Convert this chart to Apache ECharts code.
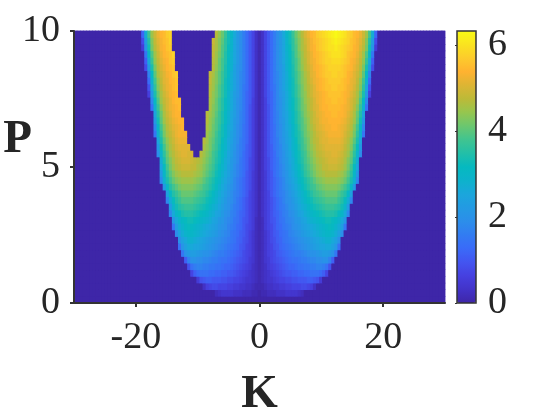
<!DOCTYPE html>
<html>
<head>
<meta charset="utf-8">
<style>html,body{margin:0;padding:0;background:#fff}</style>
<script src="https://cdn.jsdelivr.net/npm/echarts@6/dist/echarts.min.js"></script>
</head>
<body>
<div id="main" style="width:550px;height:420px"></div>
<script>
// tick labels
const kTicks = [-20, 0, 20];
const pTicks = [0, 5, 10];
const barTicks = [0, 2, 4, 6];

// axis ranges and grid steps
const kRange = [-30, 30];
const pRange = [0, 10];
const barMax = 6.33;
const kStep = 0.5;
const pStep = 0.25;

// colour bar, bottom to top
const barColors = ['#3e26a8','#4233c8','#4640e0','#4355f0','#3a6af8','#327cf2','#2c8eea','#239ae3','#1ba6dc','#0db2cc','#05b9c0',
  '#22bfa8','#40c490','#6ac770','#95c64f','#bcba38','#dcb534','#ffb230','#fccb2c','#fae320','#f9fb15'];

// values read off the right lobe, in tenths. one row per P (0 to 10, step 0.25),
// each row starts at K=0 with step 0.5, everything past the end of a row is 0
const lobeRows = [
  [0],
  [0,1,1,2,2,2,3,3,3,4,4,4,4,3,2],
  [1,1,2,3,3,4,4,5,5,6,6,7,7,7,8,8,7,6,3],
  [1,2,3,4,4,5,6,7,7,8,8,9,9,10,10,10,11,11,10,9,5],
  [1,2,3,4,5,6,7,8,9,10,10,11,11,12,12,13,13,14,14,14,13,11,7],
  [1,2,3,5,6,7,8,9,10,11,12,12,13,14,14,15,15,16,16,17,17,16,14,9],
  [1,2,4,5,7,8,9,10,11,12,13,14,14,15,16,16,17,18,18,19,19,20,20,17,11],
  [1,2,4,6,7,8,10,11,12,13,14,15,16,16,17,18,19,20,20,21,22,23,23,22,20,15],
  [1,2,4,6,7,9,10,12,13,14,15,16,17,18,19,20,21,22,23,24,25,25,26,26,24,21,14],
  [1,2,4,6,8,9,11,12,14,15,16,17,18,19,20,21,22,23,24,25,26,27,28,28,26,24,20],
  [1,2,4,6,8,10,11,13,14,15,17,18,19,20,22,23,24,25,26,27,28,29,30,30,29,27,24,19],
  [1,2,5,7,8,10,12,13,15,16,17,19,20,21,23,24,25,26,27,28,29,30,31,32,31,29,27,23,15],
  [1,2,5,7,9,10,12,14,15,17,18,19,21,22,24,25,27,28,29,30,31,32,33,33,32,31,29,26,21],
  [1,3,5,7,9,11,12,14,16,17,19,20,22,24,25,27,28,30,31,32,33,34,35,35,35,34,32,30,26,18],
  [1,3,5,7,9,11,13,15,16,18,20,21,23,25,27,28,30,32,33,34,35,36,37,37,37,36,35,33,29,23],
  [1,3,5,7,9,11,13,15,17,19,20,22,24,26,28,30,32,33,35,36,37,38,39,39,39,39,37,35,32,27,18],
  [1,3,5,7,10,12,14,16,17,19,21,23,25,27,29,31,33,35,37,38,39,40,41,41,41,41,39,37,35,31,24],
  [1,3,5,8,10,12,14,16,18,20,22,24,26,28,31,33,35,37,38,40,41,42,43,43,43,43,42,40,38,35,30,22],
  [1,3,5,8,10,12,14,16,18,21,23,25,27,30,32,34,36,38,40,42,43,44,45,45,45,45,44,43,41,38,34,28,18],
  [1,3,5,8,10,13,15,17,19,21,24,26,28,31,33,36,38,40,42,44,45,46,47,47,47,47,46,45,43,40,36,30,22],
  [1,3,6,8,11,13,15,17,19,22,24,27,29,32,34,37,39,41,43,45,46,48,48,49,49,49,48,47,45,42,38,32,25],
  [1,3,6,8,11,13,15,18,20,22,25,27,30,33,35,38,40,42,44,46,47,48,49,50,50,50,49,48,46,43,40,34,27],
  [1,3,6,9,11,13,16,18,20,23,25,28,31,33,36,38,41,43,45,47,48,49,50,50,51,51,50,49,47,45,41,36,29,19],
  [1,3,6,9,11,14,16,18,21,23,26,29,31,34,37,39,42,44,46,48,49,50,51,51,51,51,51,50,48,46,43,38,32,22],
  [1,3,6,9,12,14,16,19,21,24,26,29,32,35,37,40,42,45,47,48,50,51,51,52,52,52,52,51,49,47,44,40,34,25],
  [1,3,6,9,12,14,17,19,22,24,27,30,33,35,38,41,43,45,47,49,50,51,52,53,53,53,53,52,50,48,46,42,36,28,15],
  [1,3,6,9,12,14,17,19,22,25,27,30,33,36,39,41,44,46,48,50,51,52,53,53,54,54,53,52,51,49,47,43,38,30,18],
  [1,3,6,9,12,15,17,20,22,25,28,31,34,37,39,42,44,47,49,50,52,53,53,54,54,54,54,53,52,50,48,45,40,33,22],
  [1,3,6,9,12,15,17,20,23,25,28,31,34,37,40,43,45,47,49,51,52,53,54,54,55,55,54,54,53,51,49,46,41,35,25],
  [1,3,6,9,12,15,18,20,23,26,29,32,35,38,41,43,46,48,50,51,53,54,54,55,55,55,55,54,53,52,50,47,43,37,28,14],
  [1,3,6,10,12,15,18,20,23,26,29,32,35,38,41,44,46,48,50,52,53,54,55,55,56,56,55,55,54,52,50,48,45,39,31,18],
  [1,3,7,10,12,15,18,21,23,26,29,33,36,39,42,44,47,49,51,52,53,54,55,56,56,56,56,55,54,53,51,49,46,41,34,22,6],
  [1,3,7,10,13,15,18,21,24,27,30,33,36,39,42,45,47,49,51,53,54,55,56,56,57,57,56,56,55,53,52,50,47,43,36,25,9],
  [1,3,7,10,13,16,18,21,24,27,30,33,37,40,43,45,48,50,52,53,54,55,56,57,57,57,57,56,55,54,52,51,48,44,38,28,13],
  [1,3,7,10,13,16,18,21,24,27,31,34,37,40,43,46,48,51,52,54,55,56,57,57,58,58,57,57,56,54,53,51,49,46,40,31,17],
  [1,3,7,10,13,16,19,21,24,28,31,34,38,41,44,47,49,51,53,54,55,56,57,58,58,58,58,57,56,55,54,52,50,47,42,34,22,8],
  [1,3,7,10,13,16,19,22,25,28,31,35,38,41,45,47,50,52,53,55,56,57,58,58,59,59,59,58,57,56,54,53,51,48,44,37,26,11],
  [1,3,7,10,13,16,19,22,25,28,32,35,39,42,45,48,50,52,54,55,56,57,58,59,60,60,60,59,58,56,55,54,52,49,45,39,30,15],
  [1,3,7,10,13,16,19,22,25,29,32,36,39,43,46,48,51,53,54,56,57,58,59,60,60,61,60,59,58,57,56,54,53,50,47,42,33,20,5],
  [1,3,7,10,13,16,19,22,25,29,33,36,40,43,46,49,51,53,55,56,57,58,59,60,61,62,61,60,59,58,56,55,53,51,48,43,35,23,8],
  [1,3,7,10,13,16,19,22,26,30,33,37,41,44,47,50,52,54,55,57,58,59,60,61,62,63,62,61,60,58,57,55,54,52,49,45,38,27,12]
];

// the empty pocket in the left lobe: P of each row with its K limits
const holeP = [5.5,5.75,6,6.25,6.5,6.75,7,7.25,7.5,7.75,8,8.25,8.5,8.75,9,9.25,9.5,9.75,10];
const holeFrom = [-10.5,-11,-11.5,-11.5,-12,-12,-12.5,-12.5,-12.5,-13,-13,-13,-13,-13.5,-13.5,-13.5,-14,-14,-14];
const holeTo = [-10,-9.5,-9.5,-9,-9,-9,-9,-8.5,-8.5,-8.5,-8.5,-8.5,-8.5,-8,-8,-8,-8,-8,-7.5];

let kCats = [];
for (let k = kRange[0]; k <= kRange[1]; k += kStep) kCats.push(k);
let pCats = lobeRows.map((r, i) => i * pStep);

// heatmap cells, the picture is mirrored around K=0 apart from the pocket
let cells = [];
pCats.forEach((p, j) => {
    let h = holeP.indexOf(p);
    kCats.forEach((k, i) => {
        let v = lobeRows[j][Math.abs(k) / kStep] || 0;
        if (h >= 0 && k >= holeFrom[h] && k <= holeTo[h]) v = 0;
        cells.push([i, j, v / 10]);
    });
});

const font = '"Liberation Serif", serif';
const ink = '#333333';

let myChart = echarts.init(document.getElementById('main'), null, {renderer: 'canvas'});
myChart.setOption({
    animation: false,
    backgroundColor: '#ffffff',
    grid: [
        {left: 74, top: 31, width: 371, height: 272, outerBoundsMode: 'none'},
        {left: 74, top: 31, width: 371, height: 272, outerBoundsMode: 'none'},
        {left: 457, top: 31, width: 19, height: 272, outerBoundsMode: 'none', show: true, z: 10, borderColor: ink, borderWidth: 1.5, backgroundColor: 'transparent'}
    ],
    xAxis: [
        {type: 'category', gridIndex: 0, data: kCats, show: false},
        {
            type: 'value', gridIndex: 1, min: kRange[0], max: kRange[1], z: 5,
            splitLine: {show: false},
            axisLine: {onZero: false, lineStyle: {color: ink, width: 2}},
            axisTick: {show: true, customValues: kTicks, length: 4, lineStyle: {color: ink, width: 2}},
            axisLabel: {customValues: kTicks, fontFamily: font, fontSize: 38, color: '#262626', margin: 16},
            name: 'K', nameLocation: 'middle', nameGap: 68, nameMoveOverlap: false,
            nameTextStyle: {fontFamily: font, fontSize: 47, fontWeight: 'bold', color: '#262626'}
        },
        {type: 'value', gridIndex: 2, min: 0, max: 1, show: false}
    ],
    yAxis: [
        {type: 'category', gridIndex: 0, data: pCats, show: false},
        {
            type: 'value', gridIndex: 1, min: pRange[0], max: pRange[1], z: 5,
            splitLine: {show: false},
            axisLine: {onZero: false, lineStyle: {color: ink, width: 2}},
            axisTick: {show: true, customValues: pTicks, length: 4, lineStyle: {color: ink, width: 2}},
            axisLabel: {customValues: pTicks, fontFamily: font, fontSize: 38, color: '#262626', margin: 14},
            name: 'P', nameLocation: 'middle', nameGap: 42, nameRotate: 0, nameMoveOverlap: false,
            nameTextStyle: {fontFamily: font, fontSize: 47, fontWeight: 'bold', color: '#262626', verticalAlign: 'bottom', padding: [0, 0, 4, 0]}
        },
        {
            type: 'value', gridIndex: 2, position: 'right', min: 0, max: barMax, z: 12,
            splitLine: {show: false},
            axisLine: {show: false},
            axisTick: {show: true, inside: true, customValues: barTicks, length: 2, lineStyle: {color: ink, width: 1}},
            axisLabel: {customValues: barTicks, fontFamily: font, fontSize: 38, color: '#262626', margin: 12}
        }
    ],
    visualMap: {
        type: 'continuous',
        seriesIndex: [0, 1],
        min: 0,
        max: barMax,
        calculable: false,
        realtime: false,
        left: 457,
        top: 31,
        padding: 0,
        itemWidth: 19,
        itemHeight: 272,
        showLabel: false,
        inRange: {color: barColors},
        textStyle: {color: 'transparent', fontSize: 1}
    },
    // drawn twice so the seams between cells close up
    series: [0, 1].map(() => ({
        type: 'heatmap',
        xAxisIndex: 0,
        yAxisIndex: 0,
        data: cells,
        progressive: 0,
        itemStyle: {borderWidth: 0},
        emphasis: {disabled: true}
    }))
});
</script>
</body>
</html>
